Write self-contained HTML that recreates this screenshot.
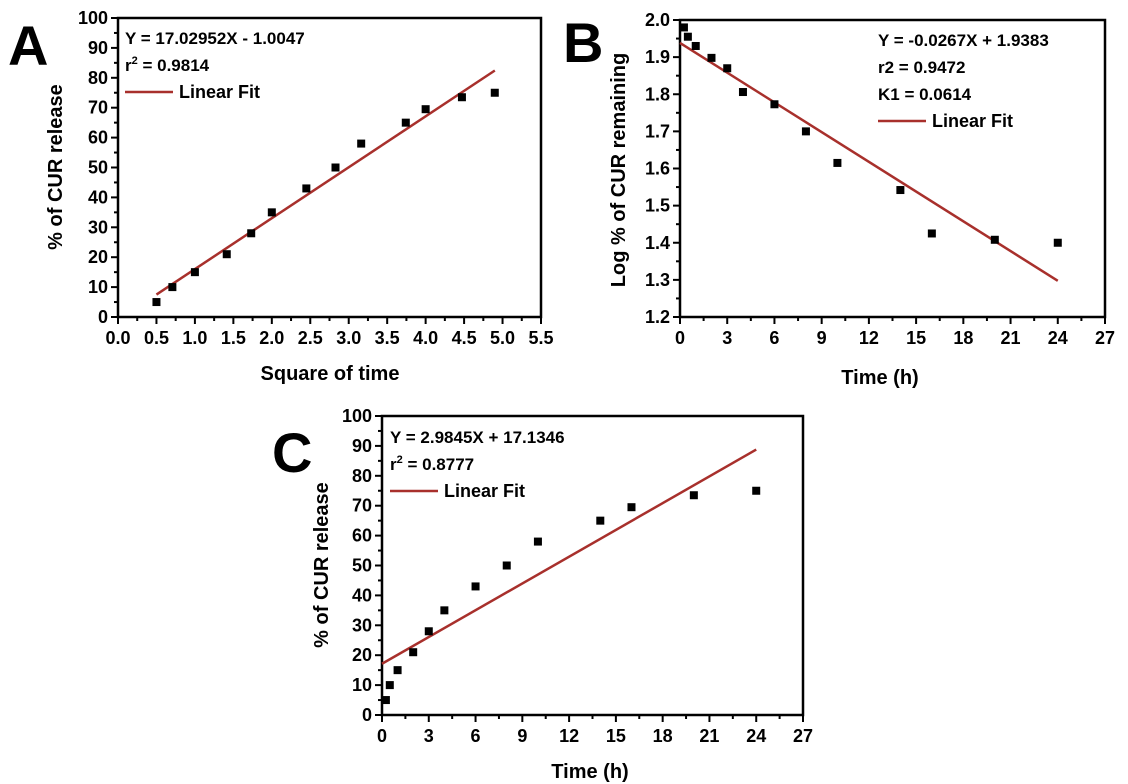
<!DOCTYPE html>
<html><head><meta charset="utf-8"><style>
body{margin:0;background:#fff}
svg{display:block;font-family:"Liberation Sans",Arial,sans-serif;font-weight:bold}
</style></head><body>
<svg id="fig" width="1128" height="784" viewBox="0 0 1128 784"></svg>
<script>
// Panel A data
const aX=[0.5,0.707,1,1.414,1.732,2,2.449,2.828,3.162,3.742,4,4.472,4.899];
const aY=[5,10,15,21,28,35,43,50,58,65,69.5,73.5,75];
const aFit=[17.02952,-1.0047];
const aXTicks=[0,0.5,1,1.5,2,2.5,3,3.5,4,4.5,5,5.5];
const aYTicks=[0,10,20,30,40,50,60,70,80,90,100];
// Panel B data
const bX=[0.25,0.5,1,2,3,4,6,8,10,14,16,20,24];
const bY=[1.98,1.955,1.93,1.898,1.87,1.806,1.773,1.70,1.615,1.542,1.425,1.408,1.40];
const bFit=[-0.0267,1.9383];
const bXTicks=[0,3,6,9,12,15,18,21,24,27];
const bYTicks=[1.2,1.3,1.4,1.5,1.6,1.7,1.8,1.9,2.0];
// Panel C data
const cX=[0.25,0.5,1,2,3,4,6,8,10,14,16,20,24];
const cY=[5,10,15,21,28,35,43,50,58,65,69.5,73.5,75];
const cFit=[2.9845,17.1346];
const cXTicks=[0,3,6,9,12,15,18,21,24,27];
const cYTicks=[0,10,20,30,40,50,60,70,80,90,100];

const NS="http://www.w3.org/2000/svg";
const svg=document.getElementById('fig');
function mk(tag,attrs,parent,text){const e=document.createElementNS(NS,tag);for(const k in attrs)e.setAttribute(k,attrs[k]);if(text!==undefined)e.textContent=text;(parent||svg).appendChild(e);return e;}
const RED='#a8302c';
function panel(o){
  const g=mk('g',{});
  
  
  const sx=v=>o.x0+(v-o.xmin)/(o.xmax-o.xmin)*(o.x1-o.x0);
  const sy=v=>o.y0-(v-o.ymin)/(o.ymax-o.ymin)*(o.y0-o.y1);
  const fr=mk('rect',{x:o.x0,y:o.y1,width:o.x1-o.x0,height:o.y0-o.y1,fill:'none',stroke:'#000','stroke-width':2.5},g);
  
  
  o.xt.forEach((v,i)=>{
    const x=sx(v);
    mk('line',{x1:x,x2:x,y1:o.y0,y2:o.y0+7,stroke:'#000','stroke-width':2},g);
    if(i<o.xt.length-1){const xm=sx((v+o.xt[i+1])/2);mk('line',{x1:xm,x2:xm,y1:o.y0,y2:o.y0+4,stroke:'#000','stroke-width':2},g);}
    const t=mk('text',{x:x,y:o.y0+27,'font-size':18,'text-anchor':'middle'},g,o.xfmt(v));
    
    
  });
  o.yt.forEach((v,i)=>{
    const y=sy(v);
    mk('line',{x1:o.x0-7,x2:o.x0,y1:y,y2:y,stroke:'#000','stroke-width':2},g);
    if(i<o.yt.length-1){const ym=sy((v+o.yt[i+1])/2);mk('line',{x1:o.x0-4,x2:o.x0,y1:ym,y2:ym,stroke:'#000','stroke-width':2},g);}
    const t=mk('text',{x:o.x0-10,y:y+6,'font-size':18,'text-anchor':'end'},g,o.yfmt(v));
    
    
  });
  const fl=mk('line',{x1:sx(o.fx[0]),y1:sy(o.fit[0]*o.fx[0]+o.fit[1]),x2:sx(o.fx[1]),y2:sy(o.fit[0]*o.fx[1]+o.fit[1]),stroke:RED,'stroke-width':2.5},g);
  
  
  o.X.forEach((v,i)=>{
    const p=mk('rect',{x:sx(v)-4,y:sy(o.Y[i])-4,width:8,height:8,fill:'#000'},g);
    
    
  });
  const xt=mk('text',{x:o.xtx,y:o.xty,'font-size':20,'text-anchor':'middle'},g,o.xtitle);
  
  
  const yt=mk('text',{x:0,y:0,'font-size':20,'text-anchor':'middle',transform:`translate(${o.ytx},${o.yty}) rotate(-90)`},g,o.ytitle);
  
  
  const L=mk('text',{x:o.lx,y:o.ly,'font-size':56,'font-weight':'bold'},g,o.id);
  
  
  o.lines.forEach((s,i)=>{
    const t=mk('text',{x:o.tx,y:o.ty+i*27,'font-size':17},g);
    t.innerHTML=s;
    
    
  });
  const ly=o.ty+o.lines.length*27-6;
  const ll=mk('line',{x1:o.tx,x2:o.tx+48,y1:ly,y2:ly,stroke:RED,'stroke-width':2.5},g);
  
  
  const lt=mk('text',{x:o.tx+54,y:ly+6,'font-size':18},g,'Linear Fit');
  
  
}
const f1=v=>v.toFixed(1), f0=v=>String(v);
panel({id:'A',x0:118,x1:541,y0:317,y1:18,xmin:0,xmax:5.5,ymin:0,ymax:100,xt:aXTicks,yt:aYTicks,xfmt:f1,yfmt:f0,
  X:aX,Y:aY,fit:aFit,fx:[0.5,4.9],xtitle:'Square of time',xtx:330,xty:380,ytitle:'% of CUR release',ytx:62,yty:167,
  lx:8,ly:65,tx:125,ty:44,lines:['Y = 17.02952X - 1.0047','r<tspan font-size="11" dy="-7">2</tspan><tspan dy="7"> = 0.9814</tspan>']});
panel({id:'B',x0:680,x1:1105,y0:317,y1:20,xmin:0,xmax:27,ymin:1.2,ymax:2.0,xt:bXTicks,yt:bYTicks,xfmt:f0,yfmt:f1,
  X:bX,Y:bY,fit:bFit,fx:[0,24],xtitle:'Time (h)',xtx:880,xty:384,ytitle:'Log % of CUR remaining',ytx:625,yty:170,
  lx:563,ly:62,tx:878,ty:46,lines:['Y = -0.0267X + 1.9383','r2 = 0.9472','K1 = 0.0614']});
panel({id:'C',x0:382,x1:803,y0:715,y1:416,xmin:0,xmax:27,ymin:0,ymax:100,xt:cXTicks,yt:cYTicks,xfmt:f0,yfmt:f0,
  X:cX,Y:cY,fit:cFit,fx:[0,24],xtitle:'Time (h)',xtx:590,xty:778,ytitle:'% of CUR release',ytx:328,yty:565,
  lx:272,ly:472,tx:390,ty:443,lines:['Y = 2.9845X + 17.1346','r<tspan font-size="11" dy="-7">2</tspan><tspan dy="7"> = 0.8777</tspan>']});
</script>
</body></html>
